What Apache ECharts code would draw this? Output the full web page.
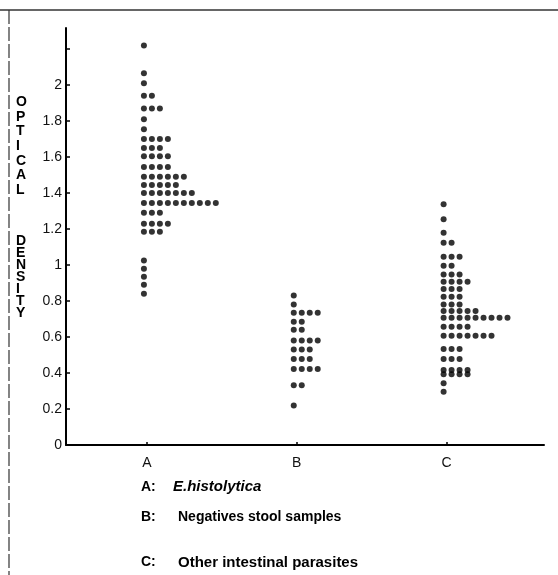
<!DOCTYPE html>
<html>
<head>
<meta charset="utf-8">
<script src="https://cdn.jsdelivr.net/npm/echarts@6/dist/echarts.min.js"></script>
<style>
  html, body { margin: 0; padding: 0; background: #fff; }
  #chart { width: 558px; height: 575px; }
</style>
</head>
<body>
<div id="chart"></div>
<script>
// Categories and their legend descriptions
const categories = ['A', 'B', 'C'];
const legendNames = ['E.histolytica', 'Negatives stool samples', 'Other intestinal parasites'];

// Each row of dots: [optical density, number of dots in that row]
const rowsA = [
  [2.22, 1], [2.065, 1], [2.01, 1], [1.94, 2], [1.87, 3], [1.81, 1], [1.755, 1],
  [1.70, 4], [1.65, 3], [1.605, 4], [1.545, 4], [1.49, 6], [1.445, 5], [1.40, 7],
  [1.345, 10], [1.29, 3], [1.23, 4], [1.185, 3],
  [1.025, 1], [0.98, 1], [0.935, 1], [0.89, 1], [0.84, 1]
];
const rowsB = [
  [0.83, 1], [0.78, 1], [0.735, 4], [0.685, 2], [0.64, 2], [0.58, 4], [0.53, 3],
  [0.478, 3], [0.422, 4], [0.332, 2], [0.22, 1]
];
const rowsC = [
  [1.337, 1], [1.254, 1], [1.18, 1], [1.124, 2], [1.046, 3], [0.996, 2], [0.948, 3],
  [0.907, 4], [0.867, 3], [0.824, 3], [0.78, 3], [0.744, 5], [0.707, 9], [0.657, 4],
  [0.607, 7], [0.533, 3], [0.478, 3], [0.417, 4], [0.393, 4], [0.343, 1], [0.296, 1]
];

// Y tick values and labels
const yTicks = [0, 0.2, 0.4, 0.6, 0.8, 1, 1.2, 1.4, 1.6, 1.8, 2, 2.2];
const yLabels = [0, 0.2, 0.4, 0.6, 0.8, 1, 1.2, 1.4, 1.6, 1.8, 2];

const colStep = 0.0533;   // horizontal spacing between dots in a row (axis units)
const colStart = -0.02;

function buildDots(rows, catIndex) {
  const pts = [];
  rows.forEach(([v, n]) => {
    for (let i = 0; i < n; i++) {
      pts.push([catIndex + 1 + colStart + i * colStep, v]);
    }
  });
  return pts;
}

const chart = echarts.init(document.getElementById('chart'), null, { renderer: 'canvas' });
const fontFam = '"Liberation Sans", Arial, sans-serif';

const option = {
  animation: false,
  backgroundColor: '#fff',
  grid: { left: 66, top: 28, width: 478, height: 417, containLabel: false },
  xAxis: {
    type: 'value',
    min: 0.46,
    max: 3.65,
    axisLine: { show: true, onZero: false, lineStyle: { color: '#000', width: 2 } },
    axisTick: { show: true, inside: true, length: 3, customValues: [1, 2, 3], lineStyle: { color: '#000', width: 1.5 } },
    axisLabel: {
      show: true, customValues: [1, 2, 3], margin: 11,
      formatter: v => categories[Math.round(v) - 1] || '',
      color: '#111', fontFamily: fontFam, fontSize: 14
    },
    splitLine: { show: false }
  },
  yAxis: {
    type: 'value',
    min: 0,
    max: 2.317,
    axisLine: { show: true, onZero: false, lineStyle: { color: '#000', width: 2 } },
    axisTick: { show: true, inside: true, length: 4, customValues: yTicks, lineStyle: { color: '#000', width: 1.5 } },
    axisLabel: {
      show: true, customValues: yLabels, margin: 4,
      formatter: v => String(Number(v.toFixed(1))),
      color: '#111', fontFamily: fontFam, fontSize: 14
    },
    splitLine: { show: false }
  },
  series: [rowsA, rowsB, rowsC].map((rows, i) => ({
    type: 'scatter',
    name: categories[i],
    data: buildDots(rows, i),
    symbol: 'circle',
    symbolSize: 6,
    itemStyle: { color: '#000' },
    silent: true
  })),
  graphic: [
    // frame lines
    { type: 'line', shape: { x1: 0, y1: 10, x2: 558, y2: 10 }, style: { stroke: '#333', lineWidth: 1.5 } },
    { type: 'line', shape: { x1: 9, y1: 10, x2: 9, y2: 575 }, style: { stroke: '#333', lineWidth: 1.2, lineDash: [14, 3] } },
    // y axis title (stacked letters)
    { type: 'text', left: 16, top: 95, style: { text: 'O\nP\nT\nI\nC\nA\nL', fontFamily: fontFam, fontWeight: 'bold', fontSize: 14, lineHeight: 14.6, fill: '#000', align: 'center' } },
    { type: 'text', left: 16, top: 234, style: { text: 'D\nE\nN\nS\nI\nT\nY', fontFamily: fontFam, fontWeight: 'bold', fontSize: 14, lineHeight: 12, fill: '#000', align: 'center' } },
    // legend texts
    { type: 'text', left: 141, top: 480, style: { text: categories[0] + ':', fontFamily: fontFam, fontWeight: 'bold', fontSize: 14, fill: '#000' } },
    { type: 'text', left: 173, top: 479, style: { text: legendNames[0], fontFamily: fontFam, fontWeight: 'bold', fontStyle: 'italic', fontSize: 15, fill: '#000' } },
    { type: 'text', left: 141, top: 510, style: { text: categories[1] + ':', fontFamily: fontFam, fontWeight: 'bold', fontSize: 14, fill: '#000' } },
    { type: 'text', left: 178, top: 510, style: { text: legendNames[1], fontFamily: fontFam, fontWeight: 'bold', fontSize: 14, fill: '#000' } },
    { type: 'text', left: 141, top: 555, style: { text: categories[2] + ':', fontFamily: fontFam, fontWeight: 'bold', fontSize: 14, fill: '#000' } },
    { type: 'text', left: 178, top: 555, style: { text: legendNames[2], fontFamily: fontFam, fontWeight: 'bold', fontSize: 15, fill: '#000' } }
  ]
};
chart.setOption(option);
</script>
</body>
</html>
